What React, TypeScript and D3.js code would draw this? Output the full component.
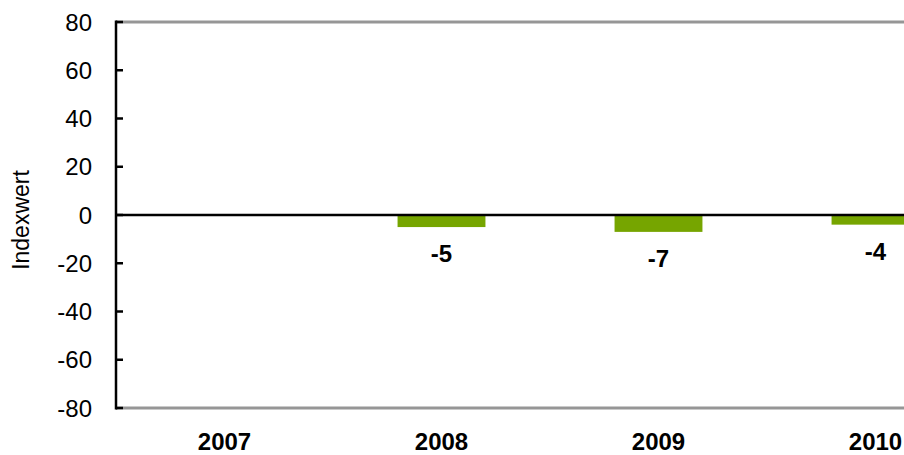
import React from "react";
import * as d3 from "d3";

const categories = ["2007", "2008", "2009", "2010"];
const values: (number | null)[] = [null, -5, -7, -4];
const yTicks = [80, 60, 40, 20, 0, -20, -40, -60, -80];
const yLabel = "Indexwert";

const W = 904;
const H = 455;
const left = 116;
const right = 984;
const top = 22;
const bottom = 408;
const FONT = "Liberation Sans, Arial, sans-serif";

export default function App() {
  const x = d3.scaleBand<string>().domain(categories).range([left, right]).padding(0);
  const y = d3.scaleLinear().domain([-80, 80]).range([bottom, top]);
  const barW = x.bandwidth() * 0.405;

  return (
    <svg
      width={W}
      height={H}
      style={{ position: "absolute", left: 0, top: 0, display: "block", background: "#fff" }}
    >
      {/* plot border lines */}
      <line x1={left} x2={right} y1={y(80)} y2={y(80)} stroke="#969696" strokeWidth={3} />
      <line x1={left} x2={right} y1={y(-80)} y2={y(-80)} stroke="#969696" strokeWidth={3} />
      {/* bars */}
      {categories.map((c, i) => {
        const v = values[i];
        if (v === null) return null;
        const cx = (x(c) as number) + x.bandwidth() / 2;
        return (
          <g key={c}>
            <rect
              x={cx - barW / 2}
              y={y(Math.max(0, v))}
              width={barW}
              height={Math.abs(y(v) - y(0))}
              fill="#76A500"
            />
            <text
              x={cx}
              y={y(v) + 35}
              textAnchor="middle"
              fontFamily={FONT}
              fontWeight="bold"
              fontSize={24}
              fill="#000"
            >
              {v}
            </text>
          </g>
        );
      })}
      {/* zero line */}
      <line x1={left} x2={right} y1={y(0)} y2={y(0)} stroke="#000" strokeWidth={2.5} />
      {/* y axis */}
      <line x1={left} x2={left} y1={y(80) - 1.5} y2={y(-80) + 1.5} stroke="#000" strokeWidth={2.5} />
      {yTicks.map((t) => (
        <g key={t}>
          <line x1={left} x2={left + 7} y1={y(t)} y2={y(t)} stroke="#000" strokeWidth={2.5} />
          <text
            x={92}
            y={y(t)}
            dy="0.36em"
            textAnchor="end"
            fontFamily={FONT}
            fontSize={24}
            fill="#000"
          >
            {t}
          </text>
        </g>
      ))}
      {/* x labels */}
      {categories.map((c) => (
        <text
          key={c}
          x={(x(c) as number) + x.bandwidth() / 2}
          y={450}
          textAnchor="middle"
          fontFamily={FONT}
          fontWeight="bold"
          fontSize={24}
          fill="#000"
        >
          {c}
        </text>
      ))}
      {/* y label */}
      <text
        transform={`translate(29, 220) rotate(-90)`}
        textAnchor="middle"
        fontFamily={FONT}
        fontSize={23}
        fill="#000"
      >
        {yLabel}
      </text>
    </svg>
  );
}
